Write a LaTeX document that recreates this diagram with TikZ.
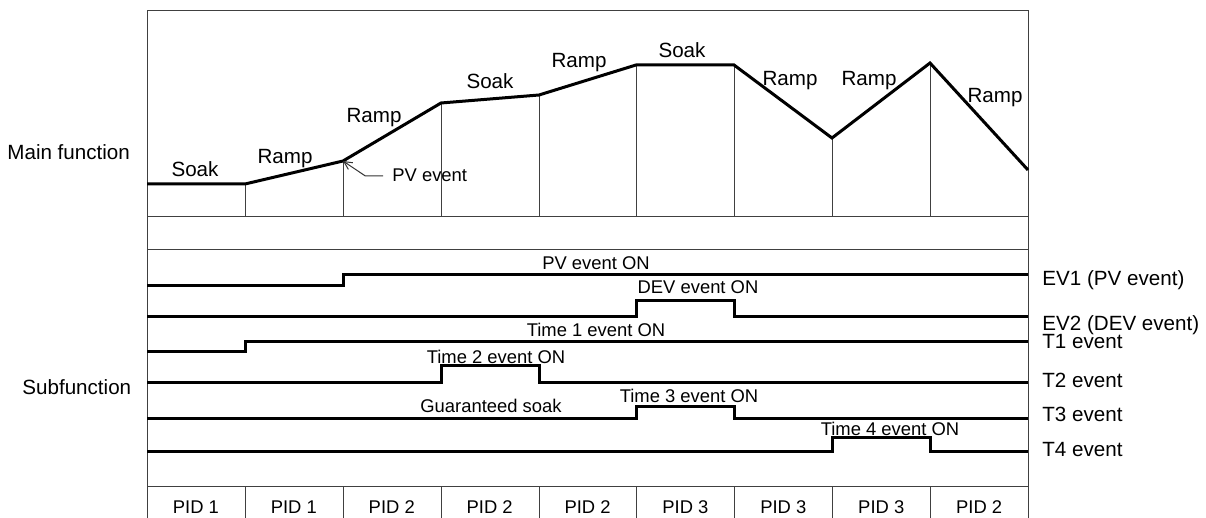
\documentclass[tikz,border=0pt]{standalone}
\usepackage{fontspec}
\setmainfont{Liberation Sans}
\usetikzlibrary{arrows.meta}

\begin{document}
\begin{tikzpicture}[x=0.5pt, y=-0.5pt,
   lbl/.style={font=\fontsize{10.3}{12}\selectfont, inner sep=0pt, anchor=base},
   evlbl/.style={font=\fontsize{9.2}{11}\selectfont, inner sep=0pt, anchor=base},
   grid/.style={black!75, line width=0.5pt},
   prof/.style={line width=1.5pt, line join=miter},
   sig/.style={line width=1.5pt},
   ptr/.style={black!80, line width=0.5pt, -{Straight Barb[length=4pt, width=4pt]}}]
  \useasboundingbox (0,0) rectangle (1206,518);

  % frame and section lines
  \draw[grid] (147,518) |- (1028,11) -- (1028,518);
  \coordinate (base) at (0,217);
  \draw[grid] (147,217) -- (1028,217);
  \draw[grid] (147,250) -- (1028,250);
  \draw[grid] (147,487) -- (1028,487);

  % main function profile
  \coordinate (p0) at (147,184);
  \coordinate (p1) at (245,184);
  \coordinate (p2) at (343,161);
  \coordinate (p3) at (441,103);
  \coordinate (p4) at (539,95);
  \coordinate (p5) at (636,65);
  \coordinate (p6) at (734,65);
  \coordinate (p7) at (832,138);
  \coordinate (p8) at (930,63);
  \coordinate (p9) at (1028,170);
  \foreach \i in {1,...,8} \draw[grid] (p\i) -- (p\i |- base);
  \draw[prof] (p0)--(p1)--(p2)--(p3)--(p4)--(p5)--(p6)--(p7)--(p8)--(p9);

  \node[lbl] (s1) at (195,177) {Soak};
  \node[lbl] (r1) at (285,164) {Ramp};
  \node[lbl] (r2) at (374,123) {Ramp};
  \node[lbl] (s2) at (490,89) {Soak};
  \node[lbl] (r3) at (579,68) {Ramp};
  \node[lbl] (s3) at (682,58) {Soak};
  \node[lbl] (r4) at (790,86) {Ramp};
  \node[lbl] (r5) at (869,86) {Ramp};
  \node[lbl] (r6) at (995,103) {Ramp};

  \node[evlbl, anchor=base west] (pvev) at (392,182) {PV event};
  \draw[ptr] ([xshift=-4.5pt]pvev.west) -- ++(-18,0) -- (p2);

  % side labels
  \node[lbl, anchor=base west] (mainf) at (7,160) {Main function};
  \node[lbl, anchor=base west] (subf) at (22,395) {Subfunction};

  % subfunction signals
  \draw[sig] (147,286) -- (343,286) -- (343,275) -- (1028,275);
  \draw[sig] (147,317) -- (636,317) -- (636,301) -- (734,301) -- (734,317) -- (1028,317);
  \draw[sig] (147,352) -- (245,352) -- (245,342) -- (1028,342);
  \draw[sig] (147,383) -- (441,383) -- (441,366) -- (539,366) -- (539,383) -- (1028,383);
  \draw[sig] (147,419) -- (636,419) -- (636,407) -- (734,407) -- (734,419) -- (1028,419);
  \draw[sig] (147,452) -- (832,452) -- (832,438) -- (930,438) -- (930,452) -- (1028,452);

  \node[evlbl] (ev1on) at (596,270) {PV event ON};
  \node[evlbl] (ev2on) at (698,294) {DEV event ON};
  \node[evlbl] (t1on) at (596,337) {Time 1 event ON};
  \node[evlbl] (t2on) at (496,364) {Time 2 event ON};
  \node[evlbl] (gsoak) at (491,413) {Guaranteed soak};
  \node[evlbl] (t3on) at (689,402) {Time 3 event ON};
  \node[evlbl] (t4on) at (890,436) {Time 4 event ON};

  \node[lbl, anchor=base west] (ev1) at (1042,286) {EV1 (PV event)};
  \node[lbl, anchor=base west] (ev2) at (1042,331) {EV2 (DEV event)};
  \node[lbl, anchor=base west] (t1) at (1042,349) {T1 event};
  \node[lbl, anchor=base west] (t2) at (1042,387) {T2 event};
  \node[lbl, anchor=base west] (t3) at (1042,422) {T3 event};
  \node[lbl, anchor=base west] (t4) at (1042,457) {T4 event};

  % PID row
  \foreach \i in {1,...,8} \draw[grid] (p\i |- 0,487) -- (p\i |- 0,518);
  \foreach \lab [count=\i] in {PID 1,PID 1,PID 2,PID 2,PID 2,PID 3,PID 3,PID 3,PID 2}
    \node[evlbl] (pid\i) at ({147+97.9*(\i-0.5)},514) {\lab};
\end{tikzpicture}
\end{document}
